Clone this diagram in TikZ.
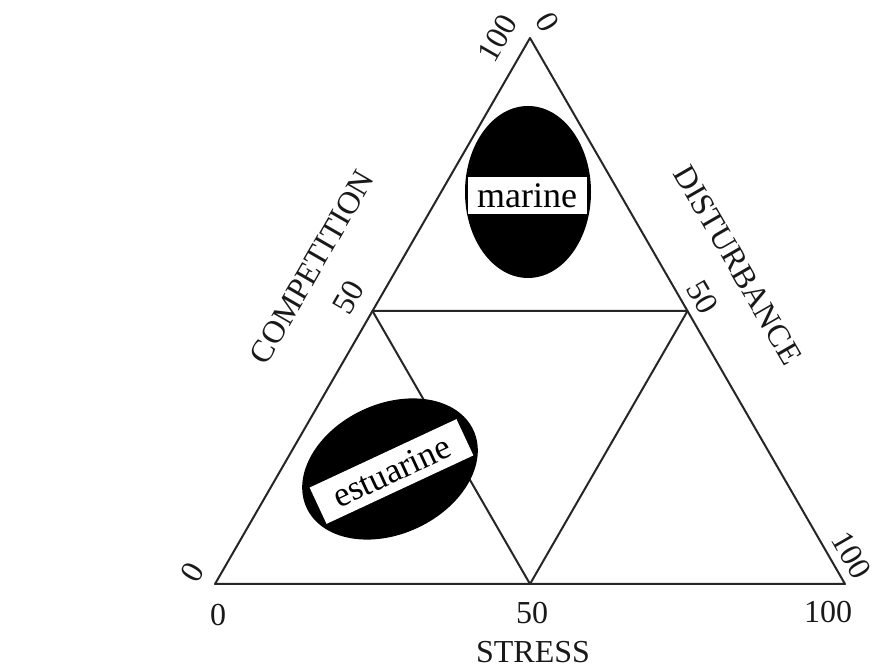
\documentclass[tikz,border=0pt]{standalone}
\usepackage{fontspec}
\setmainfont{Liberation Serif}
\begin{document}
\begin{tikzpicture}[x=1pt,y=1pt,
  edge/.style={draw=black!85, line width=2pt, line join=round},
  lbl/.style={inner sep=0pt, font=\fontsize{32}{32}\selectfont, text=black!90},
  blob/.style={fill=black, draw=none},
  tagbox/.style={fill=white, draw=none, inner sep=0pt}]
\useasboundingbox (0,0) rectangle (875,668);
\fill[white] (0,0) rectangle (875,668);
% vertices and midpoints
\coordinate (A) at (215,84);
\coordinate (B) at (845,84);
\coordinate (C) at (530,630);
\coordinate (L) at (372.5,357);
\coordinate (R) at (687.5,357);
\coordinate (M) at (530,84);
% triangle
\draw[edge] (A) -- (B) -- (C) -- cycle;
\draw[edge] (L) -- (R) -- (M) -- cycle;
% blobs
\fill[blob] (528,476) ellipse [x radius=63, y radius=86];
\fill[blob, rotate around={25:(390,199)}] (390,199) ellipse [x radius=92, y radius=65];
\node[tagbox, minimum width=119pt, minimum height=37pt, font=\fontsize{36}{36}\selectfont] (mar) at (527,472) {marine};
\node[tagbox, minimum width=162pt, minimum height=40pt, rotate=25, font=\fontsize{35}{35}\selectfont] (est) at (391.5,196.5) {estuarine};
% labels
\node[lbl, rotate=60] (c100) at (497,630) {100};
\node[lbl, rotate=-60] (d0) at (548,646) {0};
\node[lbl, rotate=60] (c0) at (192,96) {0};
\node[lbl] (s0) at (218,53) {0};
\node[lbl] (s50) at (532,55) {50};
\node[lbl] (s100) at (828,56) {100};
\node[lbl] (stress) at (533,16) {STRESS};
\node[lbl, rotate=-60] (d100) at (852,113) {100};
\node[lbl, rotate=60] (comp) at (312,401) {COMPETITION};
\node[lbl, rotate=60] (c50) at (348,371) {50};
\node[lbl, rotate=-60] (dist) at (738,403) {DISTURBANCE};
\node[lbl, rotate=-60] (d50) at (703,371) {50};
\end{tikzpicture}
\end{document}
